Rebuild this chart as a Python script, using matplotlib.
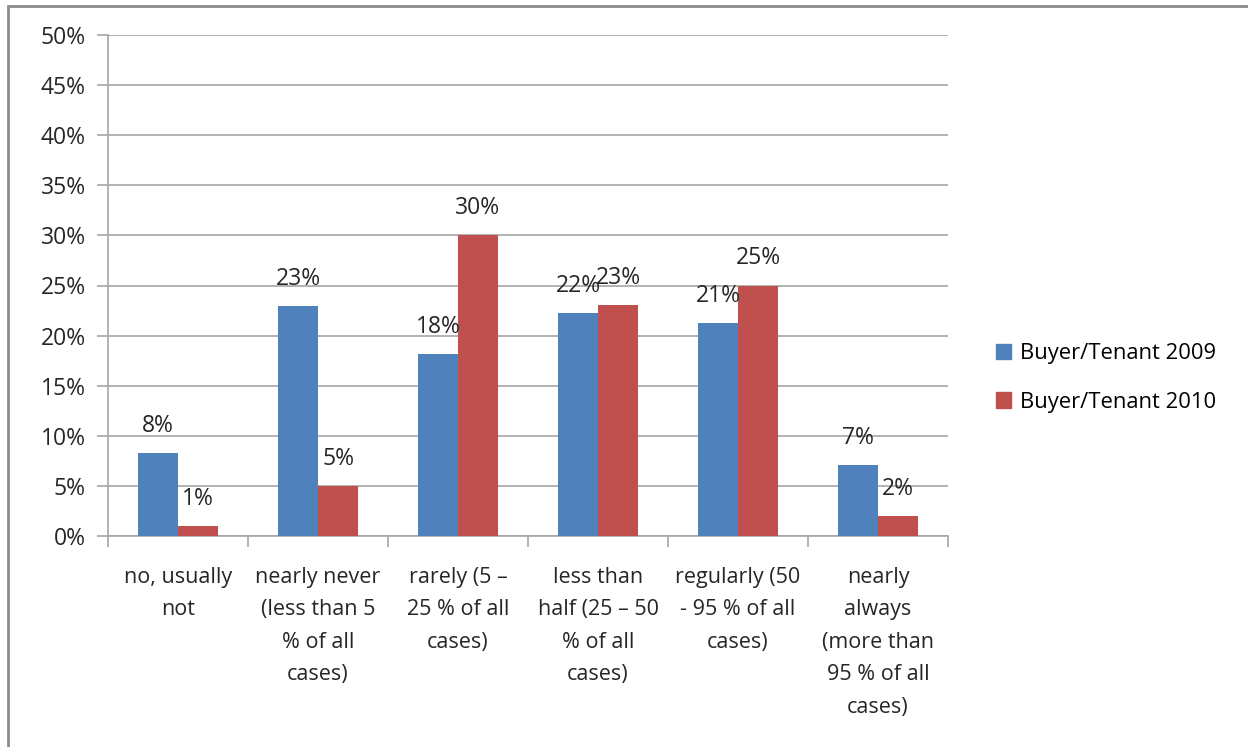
import matplotlib
matplotlib.use("Agg")
import matplotlib.pyplot as plt
from matplotlib.patches import Rectangle, Patch
import numpy as np

TFONT = "Open Sans"

categories = ["no, usually\nnot", "nearly never\n(less than 5\n% of all\ncases)",
              "rarely (5 –\n25 % of all\ncases)", "less than\nhalf (25 – 50\n% of all\ncases)",
              "regularly (50\n- 95 % of all\ncases)", "nearly\nalways\n(more than\n95 % of all\ncases)"]
series_names = ["Buyer/Tenant 2009", "Buyer/Tenant 2010"]
values_2009 = [8.3, 23.0, 18.2, 22.3, 21.3, 7.1]
values_2010 = [1.0, 5.0, 30.0, 23.1, 25.0, 2.0]
labels_2009 = ["8%", "23%", "18%", "22%", "21%", "7%"]
labels_2010 = ["1%", "5%", "30%", "23%", "25%", "2%"]
colors = ["#4F81BD", "#C0504D"]

W, H = 1248, 747
fig = plt.figure(figsize=(W / 100, H / 100), dpi=100)
fig.patch.set_facecolor("white")
fig.add_artist(Rectangle((8 / W, -0.1), 1.2, (747 - 6) / H + 0.1, transform=fig.transFigure,
                         fill=False, edgecolor="#8c8c8c", linewidth=2))

left, right, top, bottom = 108, 948, 35, 536
ax = fig.add_axes([left / W, 1 - bottom / H, (right - left) / W, (bottom - top) / H])
ax.set_xlim(0, len(categories))
ax.set_ylim(0, 50)

x = np.arange(len(categories)) + 0.5
bw = 40 / 140
ax.bar(x - bw / 2, values_2009, bw, color=colors[0], label=series_names[0], zorder=3)
ax.bar(x + bw / 2, values_2010, bw, color=colors[1], label=series_names[1], zorder=3)

LBL = 16.5
for xs, vals, labs in ((x - bw / 2, values_2009, labels_2009), (x + bw / 2, values_2010, labels_2010)):
    for xi, v, lab in zip(xs, vals, labs):
        ax.annotate(lab, (xi, v), xytext=(0, 27), textcoords="offset pixels", ha="center", va="center",
                    fontsize=LBL, color="#262626", fontfamily=TFONT, zorder=4)

ax.set_yticks(np.arange(0, 51, 5))
ax.set_yticklabels([f"{t}%" for t in range(0, 51, 5)], fontsize=LBL, color="#262626", fontfamily=TFONT)
ax.yaxis.grid(True, color="#a6a6a6", linewidth=1.2, zorder=0)
ax.tick_params(axis="y", length=8, color="#a6a6a6", width=1.2, pad=8)

ax.set_xticks(np.arange(0, len(categories) + 1))
ax.set_xticklabels([])
ax.tick_params(axis="x", length=8, color="#a6a6a6", width=1.2)
ax.set_xticks(x, minor=True)
ax.set_xticklabels(categories, minor=True, fontsize=15.5, fontfamily=TFONT, color="#262626",
                   linespacing=1.72, va="top")
ax.tick_params(axis="x", which="minor", length=0, pad=22)

for s in ["top", "right"]:
    ax.spines[s].set_visible(False)
for s in ["left", "bottom"]:
    ax.spines[s].set_color("#a6a6a6")
    ax.spines[s].set_linewidth(1.2)

handles = [Patch(color=c) for c in colors]
fig.legend(handles, series_names, loc="center left", bbox_to_anchor=(976 / W, 1 - 378 / H),
           frameon=False, handlelength=0.7, handleheight=0.7, handletextpad=0.4,
           labelspacing=1.25, prop={"family": TFONT, "size": 15.8})

fig.savefig("out.png", dpi=100)
